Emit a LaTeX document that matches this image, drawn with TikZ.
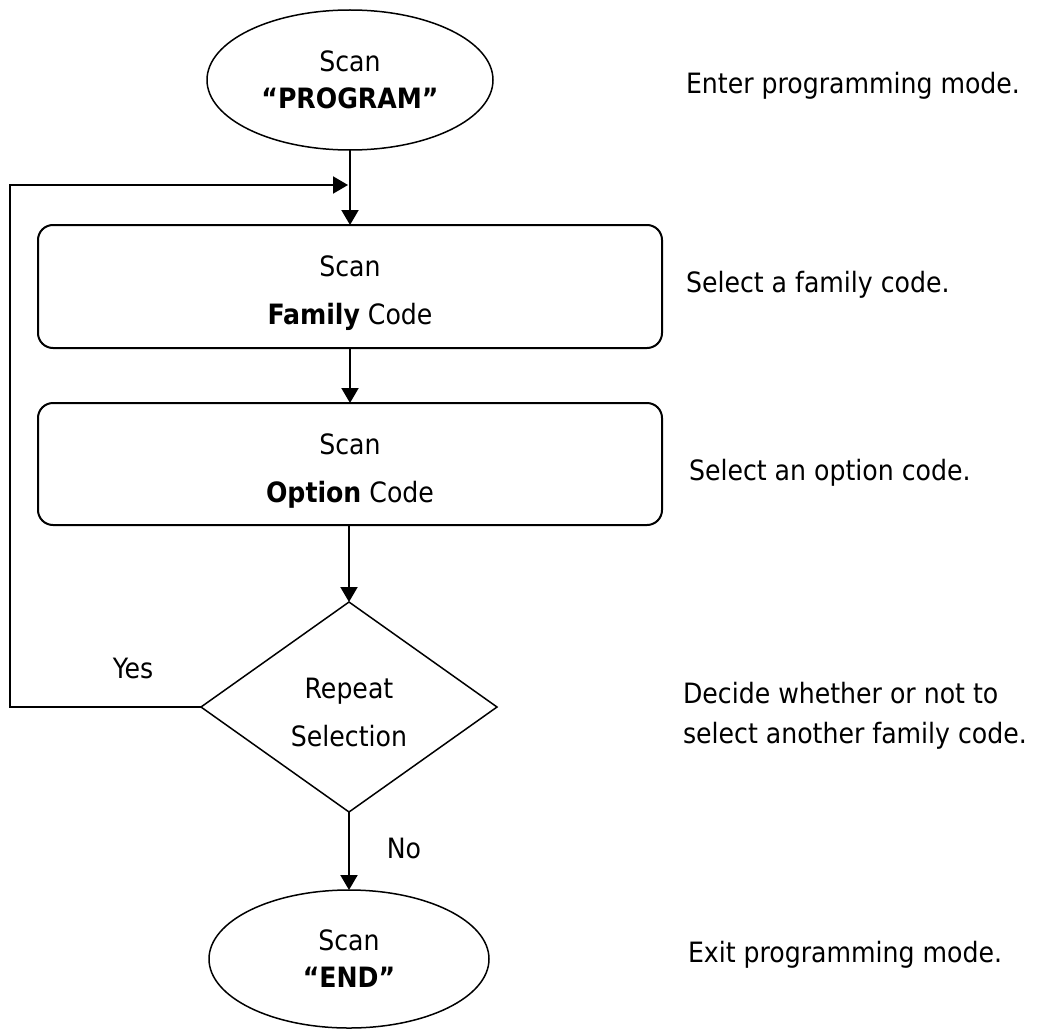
\documentclass[tikz,border=0pt]{standalone}
\usepackage{fontspec}
\setmainfont{DejaVu Sans Condensed}
\usetikzlibrary{shapes.geometric,arrows.meta}
\newcommand{\topstrut}[1]{\rule{0pt}{#1}}
\begin{document}
\begin{tikzpicture}[x=1pt,y=-1pt,
  every node/.style={inner sep=0pt,outer sep=0pt},
  txt/.style={font=\fontsize{28}{48}\selectfont,align=center},
  oval/.style={ellipse,draw,line width=1.5pt,font=\fontsize{28}{37}\selectfont,align=center},
  procbox/.style={rectangle,rounded corners=15pt,draw,line width=2pt,minimum width=624pt,txt},
  decision/.style={diamond,draw,line width=1.5pt,minimum width=296pt,minimum height=210pt,aspect=1.41,txt},
  note/.style={anchor=west,font=\fontsize{28}{40}\selectfont,align=left},
  arr/.style={line width=2pt,-{Triangle[length=15pt,width=17pt]}},
  ln/.style={line width=2pt}]
\useasboundingbox (0,0) rectangle (1056,1030);
\node[oval,minimum width=286pt,minimum height=140pt] (start) at (350,80) {Scan\\\textbf{``PROGRAM''}};
\node[procbox,minimum height=123pt] (r1) at (350,286.5) {\topstrut{34pt}Scan\\\textbf{Family} Code};
\node[procbox,minimum height=122pt] (r2) at (350,464) {\topstrut{34pt}Scan\\\textbf{Option} Code};
\node[decision] (dec) at (349,707) {\topstrut{32pt}Repeat\\Selection};
\node[oval,minimum width=280pt,minimum height=138pt] (stop) at (349,959) {Scan\\\textbf{``END''}};
\coordinate (jn) at (348,185);
\coordinate (lc) at (10,707);
\draw[arr] (start.south) -- (r1.north);
\draw[arr] (r1.south) -- (r2.north);
\draw[arr] (r2.south -| dec.north) -- (dec.north);
\draw[arr] (dec.south) -- (stop.north);
\draw[arr,line join=miter] (dec.west) -- (lc) |- (jn);
\node[txt] (yes) at (133,668) {Yes};
\node[txt] (no) at (404,848) {No};
\node[note] (n1) at (686,86) {Enter programming mode.};
\node[note] (n2) at (686,285) {Select a family code.};
\node[note] (n3) at (689,473) {Select an option code.};
\node[note] (n4) at (683,716) {Decide whether or not to\\select another family code.};
\node[note] (n5) at (688,955) {Exit programming mode.};
\end{tikzpicture}
\end{document}
